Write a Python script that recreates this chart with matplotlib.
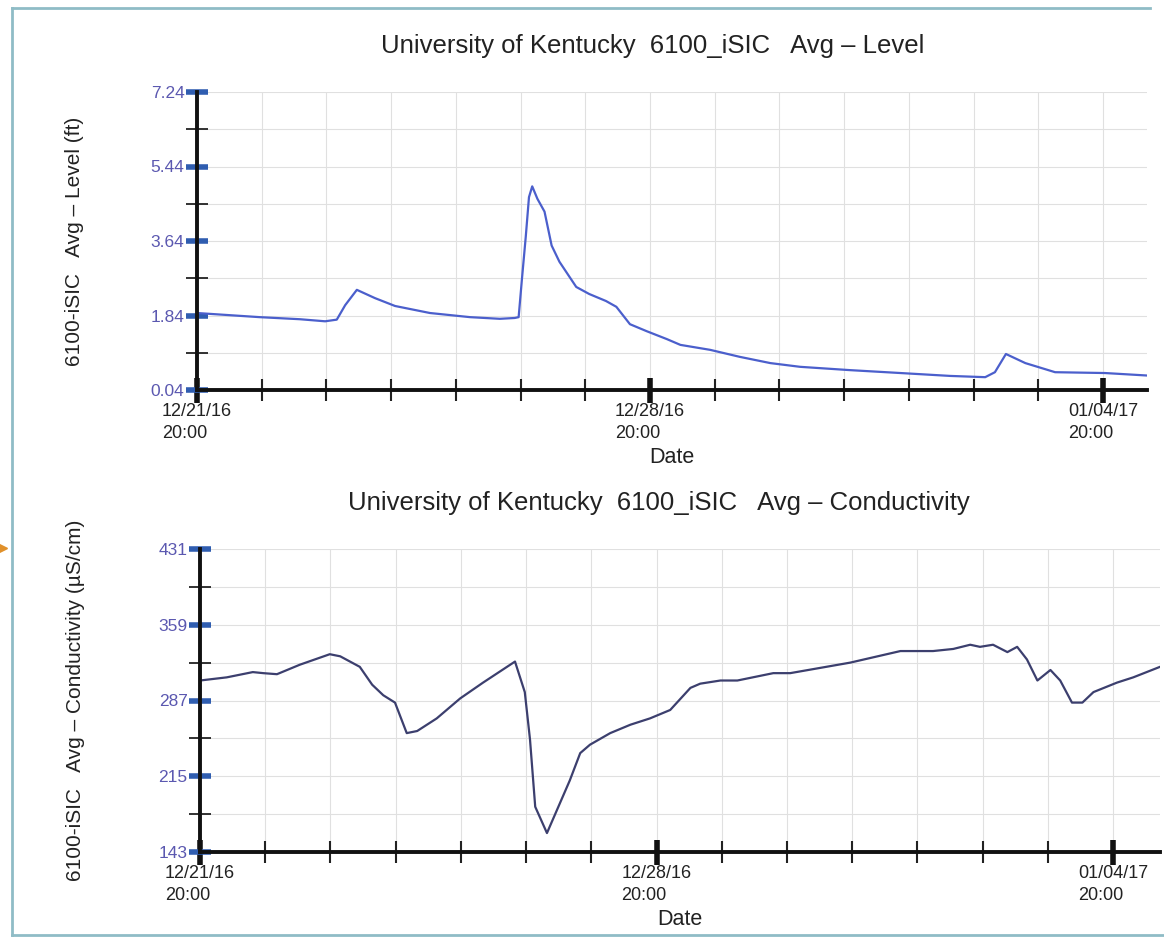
import matplotlib
matplotlib.use("Agg")
import matplotlib.pyplot as plt
import matplotlib.dates as mdates
from matplotlib.lines import Line2D
from datetime import datetime, timedelta

plt.rcParams['font.family'] = ['Liberation Sans', 'DejaVu Sans']

start = datetime(2016, 12, 21, 20, 0)

# Level (ft): day offsets from start, values
level_days = [0.00, 0.97, 1.59, 1.98, 2.16, 2.29, 2.47, 2.75, 3.06, 3.60, 4.22, 4.68,
              4.91, 4.97, 5.02, 5.08, 5.13, 5.18, 5.26, 5.37, 5.48, 5.60, 5.86, 6.06,
              6.32, 6.48, 6.69, 6.95, 7.26, 7.47, 7.93, 8.39, 8.86, 9.32, 10.09,
              10.87, 11.64, 12.18, 12.33, 12.50, 12.80, 13.26, 14.03, 14.68]
level_vals = [1.90, 1.80, 1.75, 1.70, 1.74, 2.09, 2.46, 2.26, 2.07, 1.90, 1.80, 1.76,
              1.78, 1.80, 2.70, 3.74, 4.70, 4.96, 4.66, 4.35, 3.53, 3.14, 2.53, 2.36,
              2.19, 2.05, 1.63, 1.46, 1.27, 1.13, 1.01, 0.84, 0.69, 0.60, 0.52,
              0.45, 0.38, 0.35, 0.47, 0.91, 0.69, 0.47, 0.45, 0.39]

# Conductivity (uS/cm)
cond_days = [0.00, 0.41, 0.81, 0.97, 1.18, 1.53, 1.99, 2.15, 2.45, 2.64, 2.81, 2.99,
             3.17, 3.33, 3.63, 3.99, 4.34, 4.83, 4.98, 5.06, 5.14, 5.32, 5.67, 5.83,
             5.98, 6.29, 6.60, 6.90, 7.21, 7.52, 7.67, 7.98, 8.24, 8.79, 9.05, 9.97,
             10.74, 11.24, 11.55, 11.81, 11.96, 12.16, 12.38, 12.53, 12.68, 12.84,
             13.04, 13.19, 13.37, 13.53, 13.70, 14.06, 14.31, 14.72]
cond_vals = [306, 309, 314, 313, 312, 321, 331, 329, 319, 302, 292, 285,
             256, 258, 270, 289, 304, 324, 295, 250, 186, 161, 211, 237,
             245, 256, 264, 270, 278, 299, 303, 306, 306, 313, 313, 323,
             334, 334, 336, 340, 338, 340, 333, 338, 326, 306,
             316, 306, 285, 285, 295, 304, 309, 319]

level_ticks = [0.04, 1.84, 3.64, 5.44, 7.24]
cond_ticks = [143, 215, 287, 359, 431]
major_days = [0, 7, 14]

W, H = 1164, 939
fig = plt.figure(figsize=(W / 100, H / 100), dpi=100)

# frame around the picture
frame_col = '#8fbcc6'
fig.add_artist(Line2D([12 / W, 12 / W], [1 - 8 / H, 1 - 935 / H], transform=fig.transFigure, color=frame_col, lw=2))
fig.add_artist(Line2D([12 / W, 1150 / W], [1 - 8 / H, 1 - 8 / H], transform=fig.transFigure, color=frame_col, lw=2))
fig.add_artist(Line2D([12 / W, 1164 / W], [1 - 935 / H, 1 - 935 / H], transform=fig.transFigure, color=frame_col, lw=2))
fig.add_artist(Line2D([3 / W], [1 - 548 / H], transform=fig.transFigure, marker='>', color='#e0902a',
                      markersize=6, lw=0))


def to_dates(days):
    return [start + timedelta(days=d) for d in days]


def style_axes(ax, yticks, xmax_days, title, ylabel, line_col, xd, yv, fs_title, ylabelpad, title_x):
    ax.plot(to_dates(xd), yv, color=line_col, lw=1.6, solid_joinstyle='round')
    ax.set_xlim(start, start + timedelta(days=xmax_days))
    ax.set_ylim(yticks[0], yticks[-1])
    for s in ['top', 'right']:
        ax.spines[s].set_visible(False)
    for s in ['left', 'bottom']:
        ax.spines[s].set_linewidth(2.8)
        ax.spines[s].set_color('#111111')
    # y ticks
    ax.set_yticks(yticks)
    step = yticks[1] - yticks[0]
    ax.set_yticks([t + step / 2 for t in yticks[:-1]], minor=True)
    ax.tick_params(axis='y', which='major', direction='inout', length=16, width=4,
                   color='#2f5db0', labelcolor='#5b58b0', labelsize=12.5, pad=1)
    ax.tick_params(axis='y', which='minor', direction='inout', length=16, width=1.3,
                   color='#222222')
    # x ticks
    ax.set_xticks([start + timedelta(days=d) for d in major_days])
    ax.set_xticks([start + timedelta(days=d) for d in range(0, int(xmax_days) + 1)], minor=True)
    ax.xaxis.set_major_formatter(mdates.DateFormatter('%m/%d/%y\n%H:%M'))
    ax.tick_params(axis='x', which='major', direction='inout', length=18, width=4,
                   color='#111111', labelcolor='#222222', labelsize=13, pad=0)
    ax.tick_params(axis='x', which='minor', direction='inout', length=16, width=1.5,
                   color='#222222')
    for lab in ax.get_xticklabels():
        lab.set_multialignment('left')
        lab.set_linespacing(1.45)
    ax.grid(True, which='both', color='#e0e0e0', lw=0.8)
    ax.set_axisbelow(True)
    ax.set_title(title, fontsize=fs_title, color='#222222', pad=28, x=title_x)
    ax.set_xlabel('Date', fontsize=15.5, color='#222222', labelpad=3)
    ax.set_ylabel(ylabel, fontsize=15, color='#222222', labelpad=ylabelpad)


ax1 = fig.add_axes([197 / W, 1 - 390 / H, 950 / W, 298 / H])
style_axes(ax1, level_ticks, 14.68, 'University of Kentucky  6100_iSIC   Avg \u2013 Level',
           '6100-iSIC   Avg \u2013 Level (ft)', '#4b5fcc', level_days, level_vals, 18.5, 48, 0.48)

ax2 = fig.add_axes([200 / W, 1 - 852 / H, 960 / W, 303 / H])
style_axes(ax2, cond_ticks, 14.72, 'University of Kentucky  6100_iSIC   Avg \u2013 Conductivity',
           '6100-iSIC   Avg \u2013 Conductivity (\u00b5S/cm)', '#3c3f6e', cond_days, cond_vals, 18.5, 53, 0.478)

fig.savefig('out.png', dpi=100)
